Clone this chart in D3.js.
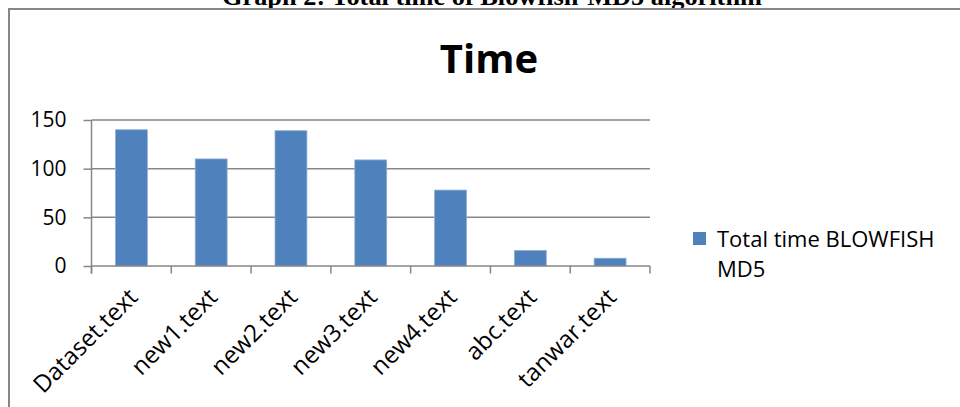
<!DOCTYPE html>
<html>
<head>
<meta charset="utf-8">
<script src="https://cdn.jsdelivr.net/npm/d3@7"></script>
<style>
  html, body { margin: 0; padding: 0; background: #fff; }
  svg { display: block; }
</style>
</head>
<body>
<svg id="chart" width="960" height="407"></svg>
<script>
// Total time per input file, Blowfish + MD5
const categories = ["Dataset.text", "new1.text", "new2.text", "new3.text", "new4.text", "abc.text", "tanwar.text"];
const totalTime = [140, 110, 139, 109, 78, 16, 8];
const yTicks = [0, 50, 100, 150];
const seriesName = ["Total time BLOWFISH", "MD5"];

const svg = d3.select("#chart");
const font = "'Open Sans', Calibri, sans-serif";
const gridColor = "#878787";
const barColor = "#4f81bd";

// Figure caption (sits above the chart frame)
svg.append("text")
  .attr("x", 492).attr("y", 5)
  .attr("text-anchor", "middle")
  .attr("font-family", "'Liberation Serif', 'Times New Roman', serif")
  .attr("font-weight", "bold")
  .attr("font-size", 25)
  .attr("textLength", 540)
  .attr("lengthAdjust", "spacingAndGlyphs")
  .text("Graph 2: Total time of Blowfish-MD5 algorithm");

// Chart frame
svg.append("path")
  .attr("d", "M9,420 V9 H970")
  .attr("fill", "none")
  .attr("stroke", gridColor)
  .attr("stroke-width", 2);

// Chart title
svg.append("text")
  .attr("x", 489).attr("y", 73)
  .attr("text-anchor", "middle")
  .attr("font-family", font)
  .attr("font-weight", "bold")
  .attr("font-size", 40)
  .attr("fill", "#000")
  .text("Time");

const x = d3.scaleBand()
  .domain(categories)
  .range([91.5, 650])
  .paddingInner(0.6)
  .paddingOuter(0.3);

const y = d3.scaleLinear()
  .domain([0, 150])
  .range([266, 120]);

// Horizontal gridlines
svg.append("g")
  .selectAll("line")
  .data(yTicks.filter(d => d > 0))
  .join("line")
  .attr("x1", 91.5).attr("x2", 650)
  .attr("y1", d => y(d)).attr("y2", d => y(d))
  .attr("stroke", gridColor)
  .attr("stroke-width", 1.5);

// Bars
svg.append("g")
  .selectAll("rect")
  .data(totalTime)
  .join("rect")
  .attr("x", (d, i) => x(categories[i]))
  .attr("width", x.bandwidth())
  .attr("y", d => y(d))
  .attr("height", d => y(0) - y(d))
  .attr("fill", barColor)
  .attr("stroke", "#8fb0d8")
  .attr("stroke-width", 0.8);

// Y axis
const yAxis = d3.axisLeft(y)
  .tickValues(yTicks)
  .tickSize(8)
  .tickPadding(17)
  .tickFormat(d3.format("d"));

const gy = svg.append("g")
  .attr("transform", "translate(91.5,0)")
  .call(yAxis);
gy.select(".domain").attr("stroke", gridColor).attr("stroke-width", 1.5)
  .attr("d", "M0,273.5V120");
gy.selectAll(".tick line").attr("stroke", gridColor).attr("stroke-width", 1.5);
gy.selectAll(".tick text")
  .attr("font-family", font)
  .attr("font-size", 21)
  .attr("fill", "#000");

// X axis: boundary ticks between categories
const boundaries = d3.range(categories.length + 1).map(i => 91.5 + i * x.step());
svg.append("line")
  .attr("x1", 91.5).attr("x2", 650)
  .attr("y1", 266).attr("y2", 266)
  .attr("stroke", gridColor).attr("stroke-width", 1.5);
svg.append("g")
  .selectAll("line")
  .data(boundaries)
  .join("line")
  .attr("x1", d => d).attr("x2", d => d)
  .attr("y1", 266).attr("y2", 273.5)
  .attr("stroke", gridColor).attr("stroke-width", 1.5);

// Rotated category labels
svg.append("g")
  .selectAll("text")
  .data(categories)
  .join("text")
  .attr("transform", d => `translate(${x(d) + x.bandwidth() / 2 - 5},286) rotate(-45)`)
  .attr("text-anchor", "end")
  .attr("dy", "0.75em")
  .attr("font-family", font)
  .attr("font-size", 24)
  .attr("fill", "#000")
  .text(d => d);

// Legend
const legend = svg.append("g");
legend.append("rect")
  .attr("x", 693).attr("y", 232)
  .attr("width", 13).attr("height", 13)
  .attr("fill", barColor);
legend.append("text")
  .attr("x", 717).attr("y", 247)
  .attr("font-family", font)
  .attr("font-size", 22)
  .attr("fill", "#000")
  .selectAll("tspan")
  .data(seriesName)
  .join("tspan")
  .attr("x", 717)
  .attr("dy", (d, i) => i === 0 ? 0 : 30)
  .text(d => d);
</script>
</body>
</html>
